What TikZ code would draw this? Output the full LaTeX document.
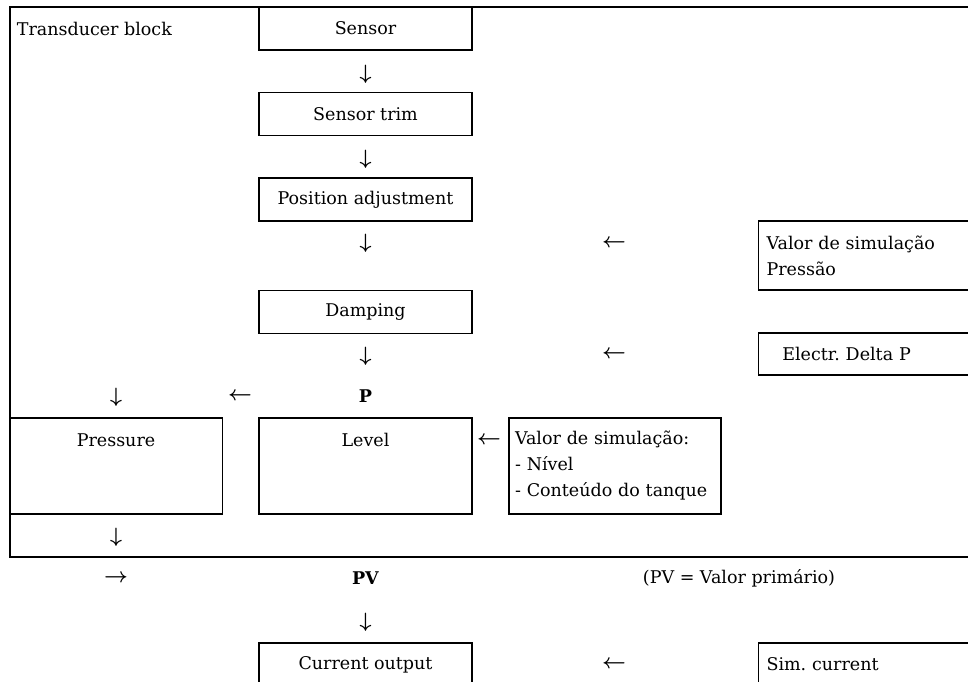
\documentclass[tikz,border=0pt]{standalone}
\usepackage{fontspec}
\setmainfont{DejaVu Serif}
\frenchspacing

\begin{document}
\begin{tikzpicture}[x=1pt, y=-1pt, line width=1.1pt, every node/.style={font=\fontsize{17.5}{26}\selectfont},
  blk/.style={draw, minimum width=213pt, minimum height=43pt, inner sep=0pt},
  tallblk/.style={draw, minimum width=213pt, text height=12pt, text depth=52pt, inner ysep=16pt},
  rbox/.style={draw, anchor=west, minimum width=300pt, text width=284pt, inner xsep=8pt, align=left},
  arr/.style={font=\fontsize{20}{20}\selectfont\boldmath, inner sep=0pt}]
\clip (0,0) rectangle (968,681);

% Transducer block frame (open to the right)
\draw (980,7) -- (10,7) -- (10,557) -- (980,557);
\node[anchor=west] (tb) at (13,28.5) {Transducer block};

% Main chain
\node[blk] (sensor) at (365.5,28.5) {Sensor};
\node[arr] (a1) at (365.5,74) {$\downarrow$};
\node[blk] (trim) at (365.5,114) {Sensor trim};
\node[arr] (a2) at (365.5,159) {$\downarrow$};
\node[blk] (posadj) at (365.5,199.5) {Position adjustment};
\node[arr] (a3) at (365.5,243) {$\downarrow$};
\node[blk] (damping) at (365.5,312) {Damping};
\node[arr] (a4) at (365.5,356) {$\downarrow$};
\node (p) at (365.5,396) {\textbf{P}};
\node[arr] (a5) at (240,396) {$\leftarrow$};
\node[arr] (a6) at (116,397) {$\downarrow$};

% Level / pressure
\node[tallblk] (pressure) at (116,466) {Pressure};
\node[tallblk] (level) at (365.5,466) {Level};
\node[arr] (a7) at (489,440) {$\leftarrow$};
\node[draw, minimum width=212pt, minimum height=96pt, text width=200pt, inner xsep=6pt, align=left] (simlevel) at (615,466)
  {Valor de simulação:\\- Nível\\- Conteúdo do tanque};
\node[arr] (a8) at (116,537) {$\downarrow$};

% Simulation inputs
\node[arr] (a9) at (614,243) {$\leftarrow$};
\node[rbox, minimum height=69pt] (simpress) at (758,255.5) {Valor de simulação\\Pressão};
\node[arr] (a10) at (614,354) {$\leftarrow$};
\node[rbox, minimum height=42pt] (deltap) at (758,354) {\makebox[160pt]{Electr. Delta P}};

% Primary value and output
\node[arr] (a11) at (116,578) {$\rightarrow$};
\node (pv) at (365.5,578) {\textbf{PV}};
\node (pvnote) at (739,578) {(PV = Valor primário)};
\node[arr] (a12) at (365.5,622) {$\downarrow$};
\node[blk] (curout) at (365.5,664.5) {Current output};
\node[arr] (a13) at (614,664) {$\leftarrow$};
\node[rbox, minimum height=43pt] (simcur) at (758,664.5) {Sim. current};
\end{tikzpicture}
\end{document}
